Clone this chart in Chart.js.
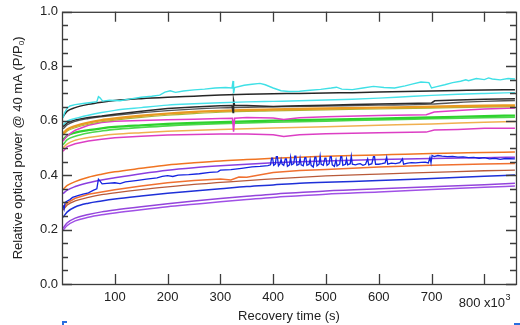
<!DOCTYPE html>
<html>
<head>
<meta charset="utf-8">
<script src="https://cdn.jsdelivr.net/npm/chart.js@4.4.1/dist/chart.umd.min.js"></script>
<style>
  html, body { margin: 0; padding: 0; background: #fff; }
  canvas { display: block; }
</style>
</head>
<body>
<canvas id="chart" width="520" height="325"></canvas>
<script>
// Axis ticks and titles
const xTickValues = [100, 200, 300, 400, 500, 600, 700, 800];
const yTickValues = [0, 0.2, 0.4, 0.6, 0.8, 1.0];
const xTitle = 'Recovery time (s)';
const xLastLabel = '800';
const xMultiplier = 'x10';
const xExponent = '3';
const yTitleMain = 'Relative optical power @ 40 mA (P/P';
const yTitleSub = '0';
const yTitleEnd = ')';

// Recovery curves: [time (x10^3 s), relative optical power]
const cyanNoisy = [[2,0.61],[5,0.63],[10,0.646],[15,0.654],[25,0.659],[40,0.663],[55,0.667],[66,0.670],[69,0.688],[72,0.684],[77,0.672],[90,0.675],[110,0.673],[130,0.680],[150,0.686],[170,0.690],[185,0.694],[195,0.705],[205,0.710],[215,0.704],[230,0.709],[250,0.713],[270,0.716],[290,0.720],[310,0.722],[322,0.720],[324,0.746],[325,0.700],[327,0.722],[345,0.730],[360,0.734],[375,0.737],[385,0.732],[400,0.720],[415,0.710],[430,0.707],[450,0.708],[470,0.712],[490,0.715],[510,0.720],[520,0.723],[530,0.716],[550,0.714],[570,0.720],[590,0.726],[610,0.722],[630,0.720],[650,0.728],[665,0.735],[680,0.742],[695,0.740],[700,0.720],[710,0.725],[725,0.732],[740,0.740],[755,0.745],[765,0.750],[770,0.747],[785,0.755],[800,0.751],[808,0.757],[815,0.753],[830,0.750],[845,0.755],[858,0.753]];
const black1 = [[2,0.615],[10,0.635],[25,0.648],[50,0.660],[75,0.668],[100,0.674],[150,0.681],[200,0.686],[250,0.690],[300,0.694],[350,0.697],[400,0.699],[450,0.700],[500,0.702],[550,0.703],[600,0.705],[650,0.707],[700,0.709],[750,0.711],[800,0.713],[858,0.714]];
const cyanSmooth = [[2,0.585],[10,0.598],[25,0.608],[50,0.620],[75,0.630],[100,0.638],[150,0.648],[200,0.657],[250,0.662],[300,0.666],[350,0.669],[400,0.671],[450,0.673],[500,0.676],[550,0.679],[600,0.683],[650,0.688],[700,0.693],[750,0.697],[800,0.700],[858,0.703]];
const black2 = [[2,0.578],[10,0.592],[25,0.603],[50,0.612],[75,0.617],[100,0.624],[150,0.635],[200,0.645],[250,0.650],[300,0.655],[322,0.656],[324,0.630],[325,0.675],[327,0.656],[350,0.656],[400,0.652],[450,0.655],[500,0.657],[550,0.659],[600,0.661],[650,0.663],[700,0.665],[706,0.673],[750,0.676],[800,0.679],[858,0.681]];
const gray3 = [[2,0.570],[10,0.585],[25,0.598],[50,0.608],[100,0.620],[200,0.637],[300,0.647],[400,0.651],[500,0.654],[600,0.657],[700,0.661],[750,0.667],[800,0.671],[858,0.674]];
const goldThick = [[2,0.553],[10,0.568],[25,0.580],[50,0.593],[75,0.602],[100,0.608],[150,0.618],[200,0.626],[250,0.632],[300,0.636],[350,0.639],[400,0.641],[450,0.643],[500,0.645],[600,0.648],[700,0.651],[800,0.655],[858,0.656]];
const olive = [[2,0.548],[10,0.562],[25,0.574],[50,0.587],[75,0.596],[100,0.602],[150,0.612],[200,0.620],[250,0.626],[300,0.631],[400,0.636],[500,0.640],[600,0.643],[700,0.646],[800,0.650],[858,0.651]];
const magenta1 = [[2,0.525],[10,0.545],[25,0.565],[50,0.583],[75,0.593],[100,0.598],[150,0.601],[200,0.603],[250,0.605],[300,0.608],[323,0.609],[325,0.560],[327,0.609],[350,0.612],[400,0.610],[420,0.604],[450,0.611],[500,0.614],[600,0.619],[690,0.622],[705,0.632],[750,0.637],[800,0.643],[858,0.647]];
const green1 = [[2,0.530],[10,0.545],[25,0.556],[50,0.565],[75,0.572],[100,0.577],[150,0.583],[200,0.588],[250,0.592],[300,0.595],[400,0.600],[500,0.604],[600,0.608],[700,0.612],[800,0.617],[858,0.619]];
const green2 = [[2,0.512],[10,0.530],[25,0.543],[50,0.555],[75,0.562],[100,0.568],[150,0.575],[200,0.581],[300,0.589],[400,0.594],[500,0.598],[600,0.603],[700,0.607],[800,0.611],[858,0.613]];
const orangeLight = [[2,0.500],[10,0.515],[25,0.528],[50,0.538],[75,0.545],[100,0.550],[150,0.556],[200,0.561],[300,0.568],[400,0.573],[500,0.578],[600,0.583],[700,0.588],[800,0.594],[858,0.597]];
const magenta2 = [[2,0.488],[10,0.505],[25,0.515],[50,0.525],[75,0.532],[100,0.537],[150,0.543],[200,0.547],[300,0.551],[350,0.551],[400,0.548],[420,0.542],[450,0.548],[500,0.552],[600,0.556],[690,0.558],[705,0.566],[750,0.568],[800,0.572],[858,0.572]];

const orangeTop = [[2,0.348],[10,0.362],[25,0.376],[50,0.392],[75,0.403],[100,0.412],[150,0.425],[200,0.437],[250,0.445],[300,0.452],[350,0.457],[400,0.462],[450,0.466],[500,0.469],[550,0.472],[600,0.474],[650,0.477],[700,0.479],[750,0.481],[800,0.483],[858,0.485]];
const purpleTop = [[2,0.332],[10,0.345],[25,0.358],[50,0.372],[75,0.382],[100,0.390],[150,0.405],[200,0.418],[250,0.427],[300,0.434],[350,0.440],[400,0.445],[450,0.449],[500,0.452],[600,0.457],[700,0.461],[800,0.464],[858,0.466]];
const blueNoisy = [[2,0.290],[4,0.275],[6,0.300],[10,0.305],[15,0.310],[20,0.318],[30,0.325],[40,0.330],[50,0.335],[60,0.345],[66,0.350],[69,0.385],[72,0.378],[76,0.368],[85,0.370],[100,0.372],[110,0.369],[120,0.375],[140,0.380],[160,0.385],[180,0.390],[190,0.395],[200,0.398],[210,0.395],[220,0.400],[240,0.402],[260,0.405],[280,0.410],[295,0.412],[300,0.418],[320,0.420],[340,0.425],[360,0.430],[375,0.432],[390,0.435],
  [395,0.438],[397,0.462],[399,0.462],[401,0.436],[404,0.440],[406,0.468],[408,0.468],[410,0.434],[413,0.442],[415,0.458],[417,0.440],[420,0.436],[423,0.460],[425,0.460],[427,0.432],[431,0.438],[433,0.466],[435,0.438],[439,0.442],[441,0.470],[443,0.470],[445,0.436],[449,0.440],[451,0.462],[453,0.438],[457,0.434],[460,0.464],[462,0.464],[464,0.436],[468,0.440],[470,0.458],[472,0.436],[476,0.430],[479,0.466],[481,0.466],[483,0.434],[487,0.440],[489,0.470],[491,0.440],[495,0.436],[498,0.462],[500,0.462],[502,0.436],[506,0.442],[508,0.468],[510,0.468],[512,0.438],[516,0.432],[519,0.456],[521,0.434],[526,0.440],[528,0.468],[530,0.468],[532,0.436],[537,0.440],[539,0.460],[541,0.438],[546,0.442],[548,0.470],[550,0.440],[556,0.438],[560,0.440],[565,0.442],[570,0.436],[575,0.440],[579,0.460],[581,0.438],[587,0.442],[590,0.468],[592,0.468],[594,0.440],[600,0.440],[606,0.442],[612,0.445],[615,0.466],[617,0.440],[624,0.444],[632,0.442],[640,0.446],[645,0.460],[647,0.440],[655,0.444],[662,0.446],[670,0.445],[680,0.447],[688,0.448],[694,0.445],[697,0.465],[699,0.445],
  [701,0.472],[705,0.468],[712,0.472],[720,0.470],[730,0.468],[740,0.469],[750,0.466],[760,0.467],[770,0.464],[780,0.465],[790,0.462],[800,0.464],[810,0.460],[820,0.462],[830,0.458],[840,0.461],[858,0.460]];
const orangeMid = [[2,0.280],[10,0.298],[25,0.315],[50,0.330],[75,0.338],[100,0.346],[150,0.360],[200,0.372],[250,0.380],[300,0.386],[320,0.382],[335,0.393],[350,0.392],[400,0.410],[450,0.417],[500,0.421],[600,0.430],[700,0.436],[800,0.441],[858,0.443]];
const brown = [[2,0.272],[10,0.290],[25,0.305],[50,0.318],[75,0.328],[100,0.335],[150,0.347],[200,0.357],[250,0.366],[300,0.373],[350,0.380],[400,0.386],[450,0.392],[500,0.397],[600,0.404],[700,0.410],[800,0.416],[858,0.418]];
const blueSmooth = [[2,0.245],[10,0.265],[25,0.283],[50,0.297],[75,0.305],[100,0.312],[150,0.323],[200,0.333],[250,0.342],[300,0.350],[350,0.358],[400,0.364],[450,0.370],[500,0.374],[600,0.380],[700,0.388],[800,0.396],[858,0.400]];
const purpleMid = [[2,0.205],[10,0.225],[25,0.242],[50,0.255],[75,0.265],[100,0.272],[150,0.284],[200,0.295],[250,0.305],[300,0.314],[350,0.322],[400,0.330],[450,0.336],[500,0.342],[600,0.350],[700,0.357],[800,0.365],[858,0.370]];
const purpleLow = [[2,0.198],[10,0.215],[25,0.232],[50,0.245],[75,0.254],[100,0.261],[150,0.273],[200,0.284],[250,0.293],[300,0.302],[350,0.310],[400,0.318],[450,0.324],[500,0.330],[600,0.338],[700,0.347],[800,0.355],[858,0.360]];

function series(data, color, width, smooth) {
  return {
    data: data,
    borderColor: color,
    borderWidth: width,
    pointRadius: 0,
    fill: false,
    cubicInterpolationMode: smooth ? 'monotone' : 'default',
    tension: 0
  };
}

const datasets = [
  series(cyanNoisy, '#3fe0e6', 1.4, false),
  series(blueNoisy, '#1424e0', 1.3, false),
  series(black1, '#262626', 1.5, true),
  series(cyanSmooth, '#48e2ea', 1.4, true),
  series(black2, '#2a2a2a', 1.5, false),
  series(gray3, '#555555', 1.4, true),
  series(goldThick, '#e89a22', 2.4, true),
  series(olive, '#a8b83a', 1.2, true),
  series(magenta1, '#e03cc8', 1.5, false),
  series(green1, '#2ed22e', 2.2, true),
  series(green2, '#4cd84c', 1.6, true),
  series(orangeLight, '#f0b050', 1.5, true),
  series(magenta2, '#dc3ec4', 1.5, false),
  series(orangeTop, '#f07422', 1.5, true),
  series(purpleTop, '#8a3ee0', 1.5, true),
  series(orangeMid, '#f07030', 1.5, false),
  series(brown, '#b85a3a', 1.3, true),
  series(blueSmooth, '#1e30d8', 1.5, true),
  series(purpleMid, '#9444dc', 1.5, true),
  series(purpleLow, '#a050e6', 1.5, true)
];

const FONT = "'Liberation Sans', Arial, Helvetica, sans-serif";
const TEXT = '#222222';
const FRAME = '#3c3c3c';

// Boxed frame with inward ticks on all four sides, plus axis titles
const framePlugin = {
  id: 'frameAndTitles',
  afterDraw(chart) {
    const { ctx, chartArea: a, scales: { x, y } } = chart;
    ctx.save();
    ctx.strokeStyle = FRAME;
    ctx.lineWidth = 1.3;
    ctx.strokeRect(a.left + 0.5, a.top + 0.5, a.right - a.left, a.bottom - a.top);
    ctx.beginPath();
    xTickValues.forEach(v => {
      const px = Math.round(x.getPixelForValue(v)) + 0.5;
      ctx.moveTo(px, a.bottom); ctx.lineTo(px, a.bottom - 10);
      ctx.moveTo(px, a.top); ctx.lineTo(px, a.top + 10);
    });
    for (let i = 0; i <= 20; i++) {
      const v = i * 0.05;
      const len = (i % 4 === 0) ? 10 : 6;
      const py = Math.round(y.getPixelForValue(v)) + 0.5;
      ctx.moveTo(a.left, py); ctx.lineTo(a.left + len, py);
      ctx.moveTo(a.right, py); ctx.lineTo(a.right - len, py);
    }
    ctx.stroke();

    ctx.fillStyle = TEXT;
    // x-axis title
    ctx.font = '13px ' + FONT;
    ctx.textAlign = 'center';
    ctx.textBaseline = 'alphabetic';
    ctx.fillText(xTitle, (a.left + a.right) / 2, 320);

    // last x label with multiplier
    const px8 = x.getPixelForValue(800);
    ctx.textAlign = 'left';
    const mainTxt = xLastLabel + ' ' + xMultiplier;
    const wMain = ctx.measureText(mainTxt).width;
    ctx.font = '9px ' + FONT;
    const wExp = ctx.measureText(xExponent).width;
    const startX = px8 - (wMain + wExp) / 2;
    ctx.font = '13px ' + FONT;
    ctx.fillText(mainTxt, startX, 307);
    ctx.font = '9px ' + FONT;
    ctx.fillText(xExponent, startX + wMain + 0.5, 300);

    // y-axis title, rotated
    ctx.save();
    ctx.translate(22, (a.top + a.bottom) / 2);
    ctx.rotate(-Math.PI / 2);
    ctx.font = '13px ' + FONT;
    const w1 = ctx.measureText(yTitleMain).width;
    const w3 = ctx.measureText(yTitleEnd).width;
    ctx.font = '8px ' + FONT;
    const w2 = ctx.measureText(yTitleSub).width;
    let sx = -(w1 + w2 + w3) / 2;
    ctx.textAlign = 'left';
    ctx.font = '13px ' + FONT;
    ctx.fillText(yTitleMain, sx, 0);
    ctx.font = '8px ' + FONT;
    ctx.fillText(yTitleSub, sx + w1, 2);
    ctx.font = '13px ' + FONT;
    ctx.fillText(yTitleEnd, sx + w1 + w2, 0);
    ctx.restore();

    // small blue corner marks along the lower edge
    ctx.fillStyle = '#2a6fe0';
    ctx.fillRect(62, 321, 5, 2);
    ctx.fillRect(62, 321, 2, 4);
    ctx.fillRect(514, 323, 6, 2);
    ctx.restore();
  }
};

new Chart(document.getElementById('chart'), {
  type: 'line',
  data: { datasets },
  plugins: [framePlugin],
  options: {
    responsive: false,
    animation: false,
    events: [],
    layout: { padding: { left: 0, right: 4, top: 11, bottom: 0 } },
    plugins: { legend: { display: false }, tooltip: { enabled: false }, title: { display: false } },
    scales: {
      x: {
        type: 'linear',
        min: 0,
        max: 860,
        grid: { display: false, drawTicks: false },
        border: { display: false },
        afterFit(scale) { scale.height = 41; },
        afterBuildTicks(scale) { scale.ticks = xTickValues.map(v => ({ value: v })); },
        ticks: {
          padding: 6,
          maxRotation: 0,
          autoSkip: false,
          color: TEXT,
          font: { family: FONT, size: 13 },
          callback: v => (v === 800 ? '' : String(v))
        }
      },
      y: {
        type: 'linear',
        min: 0,
        max: 1,
        grid: { display: false, drawTicks: false },
        border: { display: false },
        afterFit(scale) { scale.width = 62; },
        afterBuildTicks(scale) { scale.ticks = yTickValues.map(v => ({ value: v })); },
        ticks: {
          padding: 4,
          autoSkip: false,
          color: TEXT,
          font: { family: FONT, size: 13 },
          callback: v => Number(v).toFixed(1)
        }
      }
    }
  }
});
</script>
</body>
</html>
